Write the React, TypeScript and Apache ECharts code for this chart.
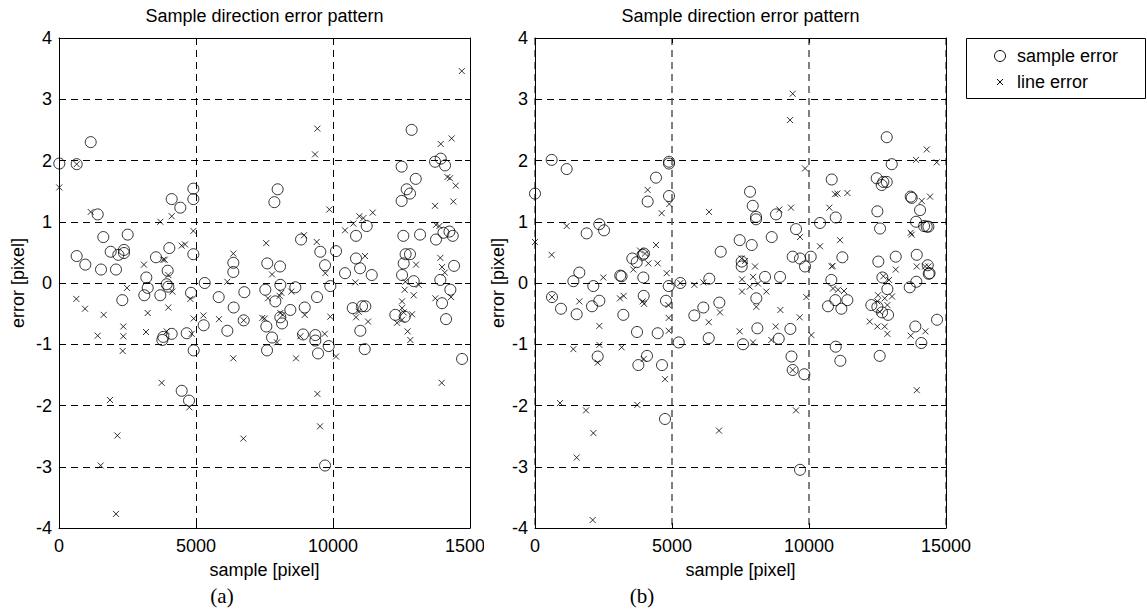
import React, { useEffect, useRef } from "react";
import * as echarts from "echarts";

const TITLE = "Sample direction error pattern";
const X_NAME = "sample [pixel]";
const Y_NAME = "error [pixel]";
const LEGEND_NAMES = ["sample error", "line error"];
const PANEL_LABELS = ["(a)", "(b)"];

// Panel (a): sample error (circles)
const sampleErrA: number[][] = [
  [10, 1.95], [645, 1.94], [1157, 2.3], [1412, 1.12], [1617, 0.75], [1886, 0.51], [2165, 0.46],
  [2372, 0.54], [2372, 0.49], [2507, 0.79], [645, 0.44], [960, 0.3], [1533, 0.22], [2080, 0.22],
  [3540, 0.42], [4027, 0.57], [4113, 1.37], [4428, 1.23], [4903, 1.54], [4903, 1.37], [4903, 0.47],
  [3966, 0.2], [3187, 0.09], [3237, -0.08], [3114, -0.2], [3698, -0.2], [3930, -0.02], [3990, -0.06],
  [2311, -0.28], [4818, -0.16], [5318, 0.0], [5829, -0.23], [6362, 0.18], [6362, 0.33], [6375, -0.4],
  [6764, -0.15], [5281, -0.69], [6143, -0.78], [6741, -0.61], [3771, -0.93], [3807, -0.88],
  [4113, -0.83], [4661, -0.82], [4916, -1.1], [4478, -1.76], [4745, -1.92],
  [12870, 2.5], [12505, 1.9], [12690, 1.53], [12810, 1.46], [12505, 1.34], [13020, 1.7],
  [13724, 1.98], [13932, 2.03], [14089, 1.92], [7980, 1.53], [7860, 1.32], [11230, 0.93],
  [10840, 0.77], [8833, 0.71], [10110, 0.52], [9537, 0.51], [9710, 0.29], [8067, 0.27], [7600, 0.32],
  [10840, 0.4], [10987, 0.24], [11414, 0.13], [10439, 0.16], [12567, 0.77], [13177, 0.79],
  [13760, 0.71], [14030, 0.82], [14250, 0.84], [14370, 0.77], [12650, 0.47], [12810, 0.47],
  [14418, 0.28], [12580, 0.32], [12520, 0.13], [12945, 0.03], [13917, 0.05], [14283, -0.11],
  [13980, -0.33], [14126, -0.59], [14710, -1.24], [7530, -0.11], [8078, -0.03], [8625, -0.07],
  [7895, -0.3], [9417, -0.23], [9903, -0.05], [8968, -0.4], [8078, -0.56], [8140, -0.66],
  [8443, -0.44], [7567, -0.71], [7775, -0.89], [7592, -1.1], [8906, -0.84], [9355, -0.85],
  [9355, -0.94], [9454, -1.15], [9843, -1.03], [10720, -0.41], [11060, -0.38], [11180, -0.38],
  [10998, -0.78], [11158, -1.08], [12275, -0.52], [12617, -0.55], [9710, -2.98]
];

// Panel (a): line error (crosses)
const lineErrA: number[][] = [
  [10, 1.56], [1157, 1.16], [3698, 1.0], [4113, 1.09], [4903, 0.85], [4478, 0.61], [4600, 0.63],
  [3100, 0.3], [3800, 0.38], [3860, 0.38], [6362, 0.48], [7560, 0.65], [645, 1.94], [3990, 0.13],
  [2482, -0.08], [4137, -0.14], [4794, -0.26], [6143, 0.02], [633, -0.26], [949, -0.42],
  [1631, -0.52], [3237, -0.49], [3990, -0.4], [4916, -0.58], [5270, -0.53], [5840, -0.59],
  [6741, -0.61], [7420, -0.57], [2347, -0.71], [1412, -0.86], [2347, -0.87], [3175, -0.8],
  [3930, -0.79], [4843, -0.83], [2324, -1.11], [6362, -1.23], [3748, -1.63], [1862, -1.91],
  [2130, -2.49], [1521, -2.98], [2080, -3.77], [4757, -2.03], [6728, -2.54],
  [14700, 3.46], [9430, 2.52], [9345, 2.1], [13932, 2.27], [14330, 2.36], [14175, 1.73],
  [14270, 1.71], [14480, 1.59], [14392, 1.33], [13724, 1.26], [9867, 1.2], [10439, 0.86],
  [10742, 0.97], [10962, 1.09], [11108, 1.06], [11450, 1.15], [8943, 0.78], [9405, 0.67],
  [13760, 0.95], [13882, 0.93], [11170, 0.44], [13917, 0.41], [13030, 0.3], [13980, 0.26],
  [14078, 0.17], [7775, 0.14], [9720, 0.16], [10815, 0.01], [12640, 0.02], [12617, -0.11],
  [12945, -0.2], [13130, -0.03], [13735, -0.25], [14308, -0.23], [8054, -0.21], [8115, -0.16],
  [8479, -0.14], [7628, -0.25], [7507, -0.58], [8078, -0.49], [8163, -0.52], [8968, -0.52],
  [9903, -0.55], [10840, -0.56], [10937, -0.47], [11280, -0.63], [12520, -0.3], [12520, -0.41],
  [12580, -0.48], [12337, -0.65], [12520, -0.6], [12885, -0.51], [12725, -0.79], [12822, -0.93],
  [7957, -0.97], [8808, -0.87], [9697, -0.83], [8650, -1.23], [10110, -1.2], [13968, -1.63],
  [9430, -1.81], [9527, -2.34]
];

// Panel (b): sample error (circles)
const sampleErrB: number[][] = [
  [0, 1.46], [608, 2.01], [1156, 1.86], [2348, 0.96], [2519, 0.86], [1886, 0.81], [4416, 1.72],
  [4112, 1.33], [4891, 1.98], [4891, 1.95], [4891, 1.42], [6778, 0.51], [7470, 0.7], [3552, 0.4],
  [3711, 0.34], [3931, 0.46], [3979, 0.48], [1618, 0.17], [1400, 0.03], [3110, 0.12], [3160, 0.11],
  [3953, 0.09], [2128, -0.05], [4880, -0.05], [5304, 0.0], [6362, 0.07], [620, -0.23], [949, -0.42],
  [1521, -0.51], [2080, -0.38], [2348, -0.29], [3224, -0.52], [3967, -0.21], [4781, -0.29],
  [5815, -0.53], [6143, -0.4], [6727, -0.32], [3723, -0.8], [4478, -0.82], [5245, -0.97],
  [6340, -0.9], [2288, -1.2], [4088, -1.19], [3772, -1.34], [4635, -1.34], [4745, -2.22],
  [12837, 2.38], [13020, 1.94], [12471, 1.71], [12714, 1.65], [12837, 1.65], [12654, 1.6],
  [12495, 1.17], [12593, 0.89], [10829, 1.69], [10976, 1.07], [10403, 0.98], [13712, 1.41],
  [13749, 1.39], [14053, 1.19], [13907, 1.0], [14200, 0.93], [14297, 0.92], [14358, 0.92],
  [7848, 1.49], [7946, 1.26], [8067, 1.08], [8067, 1.04], [8797, 1.12], [9527, 0.88], [8639, 0.75],
  [7909, 0.62], [9405, 0.43], [9672, 0.4], [9855, 0.27], [10063, 0.43], [7544, 0.35], [7544, 0.27],
  [11217, 0.42], [12530, 0.35], [13166, 0.43], [13932, 0.46], [14334, 0.29], [8395, 0.1],
  [8943, 0.1], [10815, 0.05], [14370, 0.15], [14400, 0.16], [13917, 0.02], [13676, -0.07],
  [12677, 0.09], [12860, -0.1], [12275, -0.36], [12495, -0.39], [12666, -0.48], [12885, -0.52],
  [10695, -0.38], [10961, -0.28], [11180, -0.42], [11400, -0.28], [14673, -0.6], [13880, -0.71],
  [14100, -0.98], [10976, -1.04], [11144, -1.27], [12580, -1.19], [8115, -0.74], [8895, -0.91],
  [9320, -0.75], [7592, -1.0], [8077, -0.25], [9360, -1.2], [9405, -1.42], [9830, -1.49],
  [9672, -3.05]
];

// Panel (b): line error (crosses)
const lineErrB: number[][] = [
  [0, 0.67], [608, 0.46], [1156, 0.93], [4112, 1.52], [4623, 1.14], [4903, 1.29], [6351, 1.16],
  [4416, 0.62], [3833, 0.53], [4015, 0.48], [4137, 0.32], [4478, 0.32], [3589, 0.22], [2494, 0.09],
  [4806, 0.16], [5304, 0.0], [5815, -0.03], [6143, 0.01], [620, -0.23], [1618, -0.3], [3100, -0.25],
  [3236, -0.21], [3930, -0.3], [3980, -0.34], [4867, -0.36], [4880, -0.57], [4880, -0.78],
  [6752, -0.48], [6340, -0.64], [2348, -0.7], [2348, -1.01], [1399, -1.08], [3163, -1.05],
  [2288, -1.3], [3967, -1.24], [913, -1.96], [1862, -2.08], [2130, -2.45], [1521, -2.85],
  [2105, -3.87], [3735, -1.99], [4745, -1.57], [6716, -2.41],
  [9405, 3.09], [9308, 2.66], [9855, 1.87], [14297, 2.18], [13907, 2.01], [14662, 1.97],
  [11035, 1.46], [11400, 1.47], [10950, 1.45], [14114, 1.34], [14418, 1.41], [8918, 1.2],
  [9344, 1.23], [10742, 1.23], [13712, 0.82], [13749, 0.79], [9672, 0.75], [10403, 0.6],
  [11132, 0.7], [8030, 0.27], [10829, 0.27], [10860, 0.28], [13932, 0.27], [14235, 0.27],
  [14358, 0.27], [13166, 0.22], [12714, 0.11], [12921, 0.05], [7544, 0.4], [7665, 0.36],
  [7555, 0.06], [7957, 0.1], [7836, -0.06], [8140, -0.01], [8443, -0.14], [7555, -0.14],
  [8078, -0.39], [9903, -0.23], [8955, -0.44], [9660, -0.56], [10085, -0.85], [8785, -0.71],
  [8625, -0.93], [7957, -0.97], [7470, -0.79], [10877, -0.09], [11060, -0.11], [11278, -0.13],
  [12520, -0.2], [12763, -0.25], [13030, -0.22], [12495, -0.3], [12580, -0.47], [12860, -0.36],
  [12216, -0.63], [12495, -0.71], [12763, -0.71], [12860, -0.83], [13712, -0.86], [14246, -0.79],
  [9405, -1.42], [9527, -2.08], [13932, -1.75]
];

const X_MIN = 0;
const X_MAX = 15000;
const X_STEP = 5000;
const Y_MIN = -4;
const Y_MAX = 4;
const Y_STEP = 1;

const FONT = '"Liberation Sans", Arial, Helvetica, sans-serif';
const SERIF = '"Liberation Serif", "Times New Roman", serif';
const CROSS = "path://M0,0L10,10M10,0L0,10";
const FS = 18;

const GRIDS = [
  { left: 59, top: 38, width: 411, height: 490 },
  { left: 535, top: 38, width: 411, height: 490 },
];

const plain = (v: number) => String(v);

function buildOption() {
  const xAxis: any[] = [];
  const yAxis: any[] = [];
  const line = { show: true, onZero: false, lineStyle: { color: "#000", width: 1 } };
  const tick = { show: true, inside: true, length: 5, lineStyle: { color: "#000" } };
  GRIDS.forEach((g, i) => {
    const vColor = i === 0 ? "#000" : "#555";
    xAxis.push({
      type: "value", gridIndex: i, min: X_MIN, max: X_MAX, interval: X_STEP, position: "bottom",
      axisLine: line, axisTick: tick,
      axisLabel: { color: "#000", fontSize: FS, fontFamily: FONT, margin: 9, formatter: plain },
      splitLine: { show: true, lineStyle: { color: vColor, type: [7, 5], width: i === 0 ? 1 : 1.5 } },
      name: X_NAME, nameLocation: "middle", nameGap: 33,
      nameTextStyle: { color: "#000", fontSize: FS, fontFamily: FONT },
    });
    xAxis.push({
      type: "value", gridIndex: i, min: X_MIN, max: X_MAX, interval: X_STEP, position: "top",
      axisLine: line, axisTick: tick, axisLabel: { show: false }, splitLine: { show: false },
    });
    yAxis.push({
      type: "value", gridIndex: i, min: Y_MIN, max: Y_MAX, interval: Y_STEP, position: "left",
      axisLine: line, axisTick: tick,
      axisLabel: { color: "#000", fontSize: FS, fontFamily: FONT, margin: 7, formatter: plain },
      splitLine: { show: true, lineStyle: { color: "#000", type: [7, 5], width: 1 } },
      name: Y_NAME, nameLocation: "middle", nameGap: i === 0 ? 32 : 28,
      nameTextStyle: { color: "#000", fontSize: FS, fontFamily: FONT },
    });
    yAxis.push({
      type: "value", gridIndex: i, min: Y_MIN, max: Y_MAX, interval: Y_STEP, position: "right",
      axisLine: line, axisTick: tick, axisLabel: { show: false }, splitLine: { show: false },
    });
  });

  const markStyle = { color: "rgba(0,0,0,0)", borderColor: "#000", borderWidth: 1 };
  const panels = [
    [sampleErrA, lineErrA],
    [sampleErrB, lineErrB],
  ];
  const series: any[] = [];
  panels.forEach(([s, l], i) => {
    series.push({
      type: "scatter", name: LEGEND_NAMES[0], xAxisIndex: i * 2, yAxisIndex: i * 2, data: s,
      symbol: "circle", symbolSize: 11, itemStyle: markStyle, silent: true, z: 3,
    });
    series.push({
      type: "scatter", name: LEGEND_NAMES[1], xAxisIndex: i * 2, yAxisIndex: i * 2, data: l,
      symbol: CROSS, symbolSize: 6, itemStyle: markStyle, silent: true, z: 4,
    });
  });

  const txt = (text: string, x: number, y: number, size: number, family: string, align = "center") => ({
    type: "text", x, y, z: 50,
    style: {
      text, fill: "#000", fontSize: size, fontFamily: family,
      align, verticalAlign: "middle", textAlign: align, textVerticalAlign: "middle",
    },
  });

  const graphic: any[] = [
    // hides the clipped last digit of panel (a)'s last tick label, as in the reference
    { type: "rect", shape: { x: 484, y: 532, width: 18, height: 24 }, style: { fill: "#fff" }, z: 100 },
    txt(TITLE, GRIDS[0].left + GRIDS[0].width / 2, 16, FS, FONT),
    txt(TITLE, GRIDS[1].left + GRIDS[1].width / 2, 16, FS, FONT),
    txt(PANEL_LABELS[0], 222, 596, 21, SERIF),
    txt(PANEL_LABELS[1], 642, 596, 21, SERIF),
    // legend
    { type: "rect", shape: { x: 966.5, y: 38.5, width: 179, height: 60 }, style: { fill: "#fff", stroke: "#000", lineWidth: 1 }, z: 50 },
    { type: "circle", shape: { cx: 1000, cy: 56, r: 5.5 }, style: { fill: "none", stroke: "#000", lineWidth: 1 }, z: 51 },
    { type: "line", shape: { x1: 997, y1: 79, x2: 1003, y2: 85 }, style: { stroke: "#000", lineWidth: 1 }, z: 51 },
    { type: "line", shape: { x1: 1003, y1: 79, x2: 997, y2: 85 }, style: { stroke: "#000", lineWidth: 1 }, z: 51 },
    txt(LEGEND_NAMES[0], 1017, 56, FS, FONT, "left"),
    txt(LEGEND_NAMES[1], 1017, 82, FS, FONT, "left"),
  ];

  return {
    animation: false,
    backgroundColor: "#fff",
    grid: GRIDS.map((g) => ({ ...g, containLabel: false })),
    xAxis,
    yAxis,
    series,
    graphic,
  };
}

export default function App() {
  const ref = useRef<HTMLDivElement>(null);
  useEffect(() => {
    if (!ref.current) return;
    const chart = echarts.init(ref.current, undefined, { renderer: "svg" });
    chart.setOption(buildOption() as any);
    return () => chart.dispose();
  }, []);
  return (
    <div
      ref={ref}
      style={{ position: "absolute", left: 0, top: 0, width: 1147, height: 612, background: "#fff" }}
    />
  );
}
